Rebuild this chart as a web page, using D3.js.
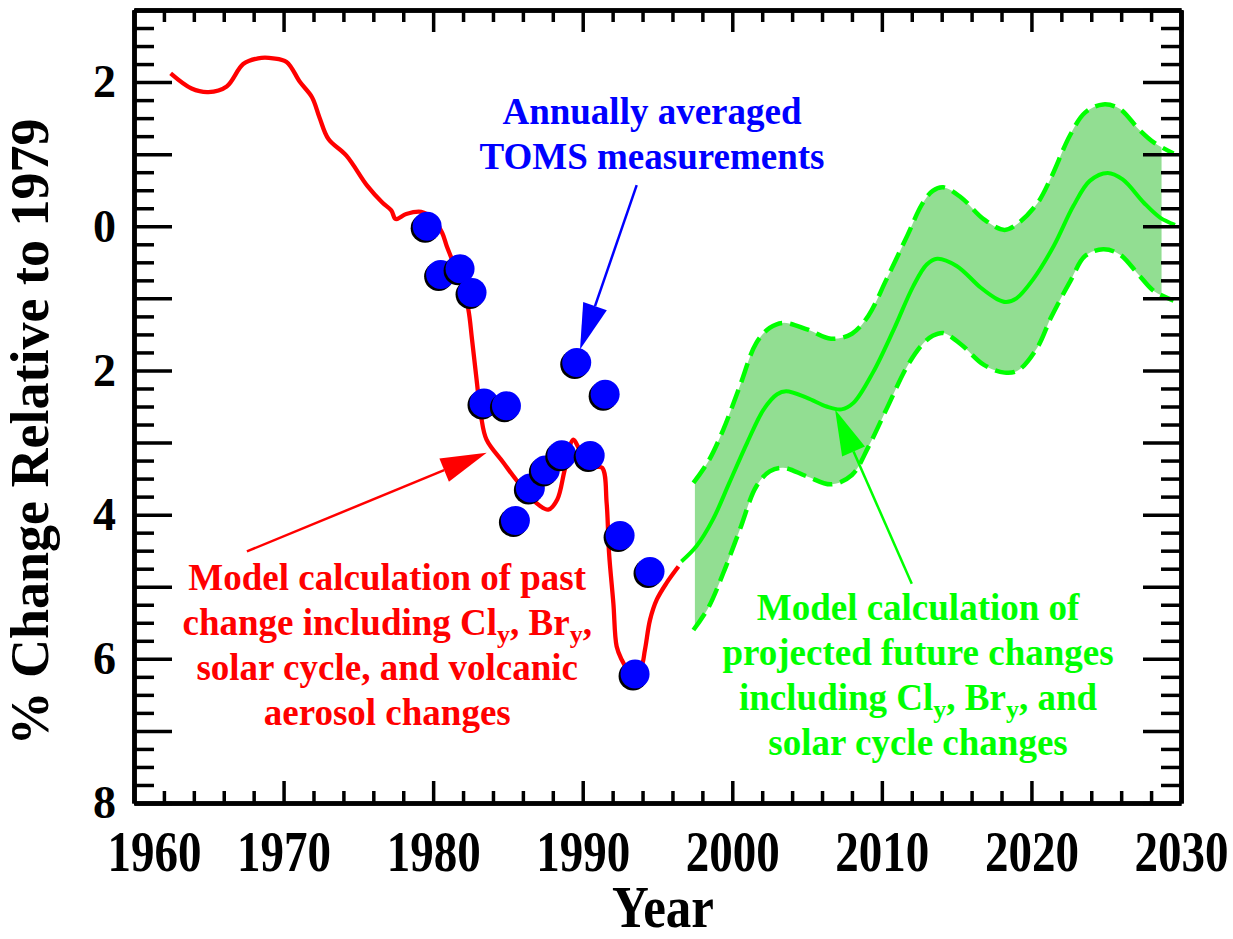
<!DOCTYPE html>
<html>
<head>
<meta charset="utf-8">
<script src="https://cdn.jsdelivr.net/npm/d3@7"></script>
<style>
  body { margin: 0; background: #fff; }
  svg { display: block; }
  text { font-family: "Liberation Serif", "Times New Roman", serif; font-weight: bold; }
</style>
</head>
<body>
<div id="chart"></div>
<script>
// model run, past (red)
const pastYears = [1962.45, 1963.85, 1964.97, 1966.2, 1967.3, 1968.3, 1969.3, 1970.2, 1971.1, 1971.9,
  1972.4, 1973.0, 1974.2, 1975.6, 1976.6, 1977.2, 1977.5, 1978.2, 1979.2, 1980.0,
  1980.6, 1980.9, 1981.2, 1982.0, 1982.35, 1982.6, 1982.9, 1983.2, 1983.57, 1984.7,
  1985.6, 1986.8, 1987.7, 1988.3, 1988.8, 1989.37, 1989.8, 1990.7, 1991.3, 1991.6,
  1991.76, 1992.05, 1992.27, 1992.6, 1992.94, 1993.3, 1993.9, 1994.16, 1994.5, 1994.95,
  1995.6, 1996.4];
const pastChange = [2.12, 1.91, 1.86, 1.94, 2.25, 2.33, 2.33, 2.28, 2.00, 1.79,
  1.51, 1.21, 0.98, 0.56, 0.33, 0.22, 0.10, 0.17, 0.20, 0.10,
  -0.09, -0.27, -0.43, -0.875, -1.15, -1.57, -2.12, -2.63, -2.96, -3.28,
  -3.53, -3.82, -3.93, -3.79, -3.375, -2.96, -3.10, -3.33, -3.35, -3.84,
  -4.53, -5.23, -5.83, -6.01, -6.13, -6.2, -6.11, -5.875, -5.46, -5.18,
  -4.95, -4.72];

// TOMS annual means (blue)
const tomsYears = [1979.6, 1980.5, 1981.8, 1982.6, 1983.4, 1984.9, 1985.5, 1986.5,
  1987.5, 1988.6, 1989.6, 1990.5, 1991.5, 1992.5, 1993.5, 1994.5];
const tomsChange = [0.0, -0.67, -0.59, -0.92, -2.45, -2.49, -4.08, -3.63,
  -3.38, -3.17, -1.89, -3.18, -2.33, -4.29, -6.21, -4.79];

// projection (green)
const futureYears = [1996.6, 1997.6, 1998.7, 1999.8, 2001.0, 2002.1, 2003.0, 2003.6, 2005.0, 2006.3,
  2007.3, 2008.1, 2009.4, 2010.8, 2012.1, 2013.0, 2013.7, 2015.0, 2016.6, 2017.7,
  2018.3, 2019.0, 2020.1, 2021.5, 2022.8, 2023.9, 2025.1, 2026.1, 2027.5, 2028.6, 2029.6];
const futureChange = [-4.65, -4.44, -4.07, -3.56, -3.0, -2.54, -2.33, -2.29, -2.38, -2.50,
  -2.54, -2.45, -2.03, -1.43, -0.83, -0.53, -0.45, -0.55, -0.85, -1.01,
  -1.05, -1.0, -0.74, -0.27, 0.28, 0.63, 0.74, 0.65, 0.33, 0.12, 0.02];

const bandYears = [1997.4, 1998.4, 1999.4, 2000.5, 2001.6, 2002.5, 2003.4, 2005.0, 2006.6, 2008.0,
  2009.1, 2010.3, 2011.7, 2012.7, 2013.4, 2014.1, 2015.3, 2016.8, 2018.2, 2019.1,
  2020.4, 2021.3, 2022.6, 2023.6, 2024.8, 2025.9, 2027.2, 2028.2, 2029.5];
const bandUpper = [-3.56, -3.26, -2.82, -2.22, -1.62, -1.41, -1.34, -1.43, -1.56, -1.49,
  -1.24, -0.74, -0.13, 0.31, 0.49, 0.54, 0.40, 0.10, -0.05, 0.04,
  0.32, 0.67, 1.27, 1.58, 1.69, 1.63, 1.34, 1.16, 1.01];
const bandLower = [-5.6, -5.29, -4.81, -4.21, -3.61, -3.40, -3.35, -3.47, -3.58, -3.45,
  -3.06, -2.54, -1.94, -1.64, -1.52, -1.48, -1.64, -1.92, -2.03, -2.0,
  -1.68, -1.27, -0.76, -0.41, -0.32, -0.39, -0.68, -0.90, -1.03];
const bandFillRange = [1997.5, 2028.7];

const xTicks = [1960, 1970, 1980, 1990, 2000, 2010, 2020, 2030];
const yLabelTicks = [2, 0, -2, -4, -6, -8];

const width = 1233;
const height = 939;
const margin = { top: 10, right: 52, bottom: 136, left: 134 };

const RED = "#ff0000", BLUE = "#0000ff", GREEN = "#00ff00", BAND = "#92de92";

const svg = d3.select("#chart").append("svg")
  .attr("width", width)
  .attr("height", height);

const x = d3.scaleLinear().domain([1960, 2030]).range([margin.left, width - margin.right]);
const y = d3.scaleLinear().domain([-8, 3]).range([height - margin.bottom, margin.top]);

// band
const band = bandYears.map((yr, i) => ({ yr, hi: bandUpper[i], lo: bandLower[i] }));

svg.append("clipPath").attr("id", "band-clip")
  .append("rect")
  .attr("x", x(bandFillRange[0]))
  .attr("width", x(bandFillRange[1]) - x(bandFillRange[0]))
  .attr("y", margin.top)
  .attr("height", height - margin.top - margin.bottom);

svg.append("path")
  .datum(band)
  .attr("clip-path", "url(#band-clip)")
  .attr("fill", BAND)
  .attr("d", d3.area()
    .x(d => x(d.yr))
    .y0(d => y(d.lo))
    .y1(d => y(d.hi))
    .curve(d3.curveCatmullRom));

const bandLine = key => d3.line()
  .x(d => x(d.yr))
  .y(d => y(d[key]))
  .curve(d3.curveCatmullRom);

["hi", "lo"].forEach(k => {
  svg.append("path")
    .datum(band)
    .attr("fill", "none")
    .attr("stroke", GREEN)
    .attr("stroke-width", 4.5)
    .attr("stroke-dasharray", "20,8")
    .attr("d", bandLine(k));
});

const line = d3.line()
  .x(d => x(d[0]))
  .y(d => y(d[1]))
  .curve(d3.curveCatmullRom);

svg.append("path")
  .datum(futureYears.map((yr, i) => [yr, futureChange[i]]))
  .attr("fill", "none")
  .attr("stroke", GREEN)
  .attr("stroke-width", 4)
  .attr("d", line);

svg.append("path")
  .datum(pastYears.map((yr, i) => [yr, pastChange[i]]))
  .attr("fill", "none")
  .attr("stroke", RED)
  .attr("stroke-width", 4.3)
  .attr("stroke-linejoin", "round")
  .attr("d", line);

// TOMS dots, each with a small dark shadow
const dots = svg.append("g").selectAll("g")
  .data(tomsYears.map((yr, i) => [yr, tomsChange[i]]))
  .enter().append("g");
dots.append("circle")
  .attr("cx", d => x(d[0]) - 2)
  .attr("cy", d => y(d[1]) + 2)
  .attr("r", 14.5)
  .attr("fill", "#000");
dots.append("circle")
  .attr("cx", d => x(d[0]))
  .attr("cy", d => y(d[1]))
  .attr("r", 14.5)
  .attr("fill", BLUE);

// annotation arrows (data coordinates: tail -> tip)
const arrows = [
  { from: [1967.55, -4.51], to: [1983.58, -3.14], color: RED },
  { from: [1993.61, 0.57], to: [1989.82, -1.71], color: BLUE },
  { from: [2012.0, -4.96], to: [2006.87, -2.54], color: GREEN }
];
arrows.forEach(a => {
  const x0 = x(a.from[0]), y0 = y(a.from[1]);
  const x1 = x(a.to[0]), y1 = y(a.to[1]);
  const len = Math.hypot(x1 - x0, y1 - y0);
  const ux = (x1 - x0) / len, uy = (y1 - y0) / len;
  const headLen = 46, headW = 12.5;
  const bx = x1 - ux * headLen, by = y1 - uy * headLen;
  svg.append("line")
    .attr("x1", x0).attr("y1", y0)
    .attr("x2", bx).attr("y2", by)
    .attr("stroke", a.color)
    .attr("stroke-width", 2.5);
  svg.append("polygon")
    .attr("points", [
      [x1, y1],
      [bx - uy * headW, by + ux * headW],
      [bx + uy * headW, by - ux * headW]
    ].map(p => p.join(",")).join(" "))
    .attr("fill", a.color);
});

// annotation text; lines are arrays of [text, isSubscript]
const notes = [
  { at: [1994.63, 1.417], color: BLUE, lines: [
    [["Annually averaged", false]],
    [["TOMS measurements", false]]
  ] },
  { at: [1976.93, -5.05], color: RED, lines: [
    [["Model calculation of past", false]],
    [["change including Cl", false], ["y", true], [", Br", false], ["y", true], [",", false]],
    [["solar cycle, and volcanic", false]],
    [["aerosol changes", false]]
  ] },
  { at: [2012.42, -5.46], color: GREEN, lines: [
    [["Model calculation of", false]],
    [["projected future changes", false]],
    [["including Cl", false], ["y", true], [", Br", false], ["y", true], [", and", false]],
    [["solar cycle changes", false]]
  ] }
];
const lineGap = 45;
notes.forEach(n => {
  n.lines.forEach((parts, li) => {
    const t = svg.append("text")
      .attr("x", x(n.at[0]))
      .attr("y", y(n.at[1]) + li * lineGap)
      .attr("text-anchor", "middle")
      .attr("fill", n.color)
      .style("font-size", "37px");
    let shifted = false;
    parts.forEach(([str, sub]) => {
      const ts = t.append("tspan").text(str);
      if (sub && !shifted) { ts.attr("dy", 8).style("font-size", "26px"); shifted = true; }
      else if (sub) { ts.style("font-size", "26px"); }
      else if (shifted) { ts.attr("dy", -8); shifted = false; }
    });
  });
});

// axes
const xMinor = d3.range(1962, 2030, 2).filter(v => v % 10 !== 0);
const xMajor = xTicks;
const yMajor = d3.range(-8, 4, 1);
const yMinor = d3.range(-8, 3.01, 0.25).filter(v => v % 1 !== 0);

function styleAxis(g) {
  g.selectAll(".domain").attr("stroke", "#000").attr("stroke-width", 4.5);
  g.selectAll(".tick line").attr("stroke", "#000").attr("stroke-width", 3.5);
  g.selectAll("text").remove();
}

const axisSets = [
  { make: d3.axisBottom, scale: x, tf: `translate(0,${height - margin.bottom})`, major: xMajor, minor: xMinor, big: 22, small: 12 },
  { make: d3.axisTop, scale: x, tf: `translate(0,${margin.top})`, major: xMajor, minor: xMinor, big: 22, small: 12 },
  { make: d3.axisLeft, scale: y, tf: `translate(${margin.left},0)`, major: yMajor, minor: yMinor, big: 38, small: 20 },
  { make: d3.axisRight, scale: y, tf: `translate(${width - margin.right},0)`, major: yMajor, minor: yMinor, big: 38, small: 20 }
];
axisSets.forEach(s => {
  svg.append("g").attr("transform", s.tf)
    .call(s.make(s.scale).tickValues(s.minor).tickSize(-s.small).tickSizeOuter(0))
    .call(styleAxis);
  svg.append("g").attr("transform", s.tf)
    .call(s.make(s.scale).tickValues(s.major).tickSize(-s.big).tickSizeOuter(0))
    .call(styleAxis);
});

// tick labels (x labels drawn a little taller, as in the original)
const xStretch = 1.2;
const xBase = 68;
const xLab = svg.append("g")
  .attr("transform", `translate(0,${height - margin.bottom})`)
  .call(d3.axisBottom(x).tickValues(xTicks).tickSize(0).tickFormat(d3.format("d")));
xLab.select(".domain").remove();
xLab.selectAll("text")
  .attr("fill", "#000")
  .attr("y", xBase / xStretch)
  .attr("dy", 0)
  .attr("dx", d => d === 1960 ? 20 : 0)
  .attr("transform", `scale(1,${xStretch})`)
  .style("font-family", "Liberation Serif")
  .style("font-weight", "bold")
  .style("font-size", "47px");

const yLab = svg.append("g")
  .attr("transform", `translate(${margin.left},0)`)
  .call(d3.axisLeft(y).tickValues(yLabelTicks).tickSize(0).tickPadding(18).tickFormat(d => Math.abs(d)));
yLab.select(".domain").remove();
yLab.selectAll("text")
  .attr("fill", "#000")
  .style("font-family", "Liberation Serif")
  .style("font-weight", "bold")
  .style("font-size", "46px");

// axis titles
svg.append("text")
  .attr("transform", "translate(663,927) scale(1,1.15)")
  .attr("text-anchor", "middle")
  .attr("fill", "#000")
  .style("font-size", "51px")
  .text("Year");

svg.append("text")
  .attr("transform", "translate(48,432) rotate(-90)")
  .attr("text-anchor", "middle")
  .attr("fill", "#000")
  .style("font-size", "54px")
  .text("% Change Relative to 1979");
</script>
</body>
</html>
